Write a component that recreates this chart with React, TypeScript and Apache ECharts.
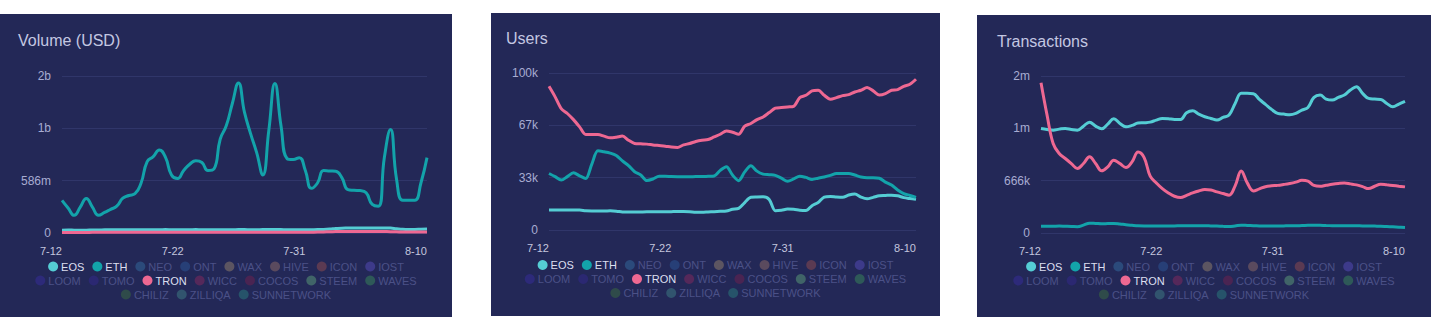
import React, { useEffect, useRef } from "react";
import * as echarts from "echarts";

const categories = [
  "7-12", "7-12", "7-13", "7-13", "7-14", "7-14", "7-15", "7-15", "7-16", "7-16",
  "7-17", "7-17", "7-18", "7-18", "7-19", "7-19", "7-20", "7-20", "7-21", "7-21",
  "7-22", "7-22", "7-23", "7-23", "7-24", "7-24", "7-25", "7-25", "7-26", "7-26",
  "7-27", "7-27", "7-27", "7-28", "7-28", "7-29", "7-29", "7-30", "7-30", "7-31",
  "7-31", "8-1", "8-1", "8-2", "8-2", "8-3", "8-3", "8-4", "8-4", "8-5",
  "8-5", "8-6", "8-6", "8-7", "8-7", "8-8", "8-8", "8-9", "8-9", "8-10",
  "8-10",
];

// Volume (USD), in millions
const volumeEOS = [
  32, 33, 32, 31, 32, 33, 34, 35, 36, 36,
  37, 37, 37, 36, 36, 37, 37, 38, 37, 36,
  36, 37, 38, 37, 37, 36, 36, 37, 37, 38,
  38, 37, 37, 38, 38, 39, 38, 37, 37, 36,
  36, 37, 38, 40, 44, 50, 54, 55, 56, 56,
  56, 55, 56, 56, 55, 48, 42, 40, 40, 42,
  44,
];
const volumeETH = [
  366, 280, 198, 290, 385, 290, 198, 230, 265, 300,
  390, 420, 440, 560, 800, 855, 930, 850, 650, 610,
  700, 770, 810, 790, 700, 720, 1050, 1200, 1450, 1681,
  1350, 1113, 900, 650, 1150, 1673, 1200, 833, 822, 844,
  700, 500, 560, 700, 695, 691, 620, 486, 478, 475,
  450, 320, 300, 850, 1158, 600, 366, 366, 366, 560,
  844,
];
const volumeTRON = [
  6, 6, 6, 6, 6, 7, 7, 7, 7, 7,
  7, 7, 7, 7, 7, 7, 7, 7, 7, 7,
  7, 7, 7, 7, 7, 7, 7, 8, 8, 8,
  8, 8, 8, 8, 8, 8, 8, 8, 8, 8,
  8, 9, 10, 12, 14, 16, 17, 18, 18, 18,
  18, 17, 17, 16, 15, 13, 11, 10, 10, 10,
  11,
];

// Users, in thousands
const usersEOS = [
  12.7, 12.8, 12.8, 12.8, 12.7, 12.7, 12.2, 12.1, 12.1, 12.1,
  12.2, 12.0, 11.5, 11.4, 11.4, 11.5, 11.6, 11.6, 11.6, 11.6,
  11.7, 11.8, 11.8, 11.7, 11.3, 11.3, 11.5, 11.7, 11.9, 12.1,
  13.2, 13.8, 17.5, 20.8, 21.0, 21.1, 19.5, 12.3, 12.6, 13.3,
  13.2, 12.6, 12.4, 15.5, 17.5, 21.0, 21.4, 21.0, 20.8, 22.3,
  23.0, 21.0, 19.9, 20.8, 21.8, 22.0, 22.2, 21.8, 20.6, 20.0,
  19.5,
];
const usersETH = [
  36, 34, 31.8, 34, 36.4, 34.5, 32.8, 42, 50.4, 49.8,
  49, 47.5, 44, 41, 37.1, 35, 31.5, 32.5, 34.2, 34.2,
  34, 33.9, 33.9, 33.9, 34, 34, 34.2, 34.4, 38, 40.3,
  35, 31.4, 37, 40.9, 37.5, 35.6, 35.2, 34.8, 33, 31,
  32.5, 34.3, 33.5, 32.2, 33, 33.8, 34.8, 36, 36, 36,
  35, 33.8, 33.3, 33.3, 33, 30.5, 28.6, 25.5, 23.2, 22,
  20.8,
];
const usersTRON = [
  91.5, 84.8, 77.3, 74.2, 70.3, 65.7, 60.8, 60.8, 60.8, 59.8,
  58.7, 59.1, 59.8, 57.2, 55.1, 54.9, 54.7, 54.2, 53.8, 53.4,
  52.8, 52.6, 54.2, 55.1, 56.4, 57.2, 57.6, 59.3, 61.0, 63.1,
  62.3, 61.0, 66.1, 67.8, 70.3, 72.0, 74.8, 77.6, 78.0, 78.4,
  78.8, 84.3, 85.8, 88.6, 89.0, 85.8, 83.3, 84.3, 85.6, 86.2,
  87.9, 89.0, 90.7, 88.6, 86.0, 86.9, 89.0, 89.4, 91.5, 92.8,
  96.0,
];

// Transactions, in thousands
const txEOS = [
  1331, 1318, 1309, 1322, 1331, 1318, 1309, 1360, 1411, 1360,
  1326, 1386, 1454, 1394, 1352, 1369, 1399, 1403, 1411, 1437,
  1458, 1454, 1445, 1445, 1530, 1556, 1513, 1479, 1458, 1437,
  1471, 1501, 1649, 1777, 1777, 1773, 1700, 1637, 1573, 1522,
  1513, 1505, 1522, 1564, 1598, 1726, 1756, 1705, 1692, 1726,
  1756, 1819, 1862, 1777, 1713, 1705, 1700, 1649, 1607, 1641,
  1675,
];
const txETH = [
  85, 85, 86, 88, 86, 84, 80, 100, 125, 122,
  118, 120, 122, 115, 105, 98, 92, 90, 90, 88,
  88, 90, 90, 92, 92, 92, 92, 92, 90, 88,
  85, 83, 90, 100, 97, 93, 90, 88, 88, 88,
  90, 92, 92, 95, 98, 100, 98, 95, 93, 92,
  92, 92, 92, 90, 90, 88, 86, 82, 78, 74,
  70,
];
const txTRON = [
  1913, 1500, 1139, 1012, 948, 884, 820, 884, 969, 884,
  791, 842, 927, 884, 833, 905, 1030, 960, 723, 638,
  565, 510, 468, 451, 480, 510, 535, 553, 548, 523,
  502, 482, 600, 790, 638, 536, 562, 589, 600, 606,
  617, 630, 647, 670, 660, 605, 594, 607, 620, 630,
  636, 625, 612, 590, 565, 595, 621, 613, 605, 596,
  587,
];

const legendRow1 = ["EOS", "ETH", "NEO", "ONT", "WAX", "HIVE", "ICON", "IOST"];
const legendRow2 = ["LOOM", "TOMO", "TRON", "WICC", "COCOS", "STEEM", "WAVES"];
const legendRow3 = ["CHILIZ", "ZILLIQA", "SUNNETWORK"];

const coinColors: Record<string, string> = {
  EOS: "#55cdd4",
  ETH: "#13a3aa",
  TRON: "#ee6892",
  NEO: "#2b4a7b",
  ONT: "#273f77",
  WAX: "#5c5561",
  HIVE: "#5a4a5e",
  ICON: "#5b3a52",
  IOST: "#3d3a8a",
  LOOM: "#2d2a7a",
  TOMO: "#2b2872",
  WICC: "#55285a",
  COCOS: "#4a2452",
  STEEM: "#406468",
  WAVES: "#2e5958",
  CHILIZ: "#2f4b4a",
  ZILLIQA: "#31546e",
  SUNNETWORK: "#26536a",
};

const BG = "#232857";
const GRID = "#30366a";
const FONT = "'Liberation Sans', Arial, Helvetica, sans-serif";

type PanelCfg = {
  title: string;
  left: number;
  top: number;
  width: number;
  height: number;
  titleLeft: number;
  titleTop: number;
  legendTop: number;
  grid: { left: number; right: number; top: number; bottom: number };
  max: number;
  interval: number;
  fmt: (v: number) => string;
  data: Record<string, number[]>;
  smooth: number;
};

const fmtVolume = (v: number) =>
  v === 0 ? "0" : v >= 1000 ? Math.round(v / 1000) + "b" : Math.round(v) + "m";
const fmtUsers = (v: number) => (v === 0 ? "0" : Math.round(v) + "k");
const fmtTx = (v: number) =>
  v === 0 ? "0" : v >= 1000 ? Math.round(v / 1000) + "m" : Math.round(v) + "k";

const panels: PanelCfg[] = [
  {
    title: "Volume (USD)",
    left: 0, top: 14, width: 452, height: 303,
    titleLeft: 13, titleTop: 13.5, legendTop: 242,
    grid: { left: 62, right: 25, top: 62, bottom: 84 },
    max: 1758, interval: 586, fmt: fmtVolume,
    data: { EOS: volumeEOS, ETH: volumeETH, TRON: volumeTRON },
    smooth: 0.5,
  },
  {
    title: "Users",
    left: 491, top: 13, width: 449, height: 303,
    titleLeft: 10, titleTop: 12, legendTop: 241.5,
    grid: { left: 58, right: 24, top: 60, bottom: 86 },
    max: 99.999, interval: 33.333, fmt: fmtUsers,
    data: { EOS: usersEOS, ETH: usersETH, TRON: usersTRON },
    smooth: 0.3,
  },
  {
    title: "Transactions",
    left: 977, top: 15, width: 454, height: 302,
    titleLeft: 15, titleTop: 13, legendTop: 241,
    grid: { left: 64, right: 26, top: 61, bottom: 84 },
    max: 1998, interval: 666, fmt: fmtTx,
    data: { EOS: txEOS, ETH: txETH, TRON: txTRON },
    smooth: 0.4,
  },
];

const allCoins = [...legendRow1, ...legendRow2, ...legendRow3];

function buildLegend(row: string[], top: number) {
  return {
    top,
    left: "center",
    selectedMode: false,
    icon: "circle",
    itemWidth: 10,
    itemHeight: 10,
    itemGap: 8,
    textStyle: { fontSize: 11, fontFamily: FONT, padding: [0, 0, 0, -2] },
    data: row.map((name) => {
      const active = name === "EOS" || name === "ETH" || name === "TRON";
      return {
        name,
        icon: "circle",
        itemStyle: { color: coinColors[name], borderWidth: 0 },
        textStyle: { color: active ? "#dcdff0" : "#4b5187" },
      };
    }),
  };
}

function buildOption(cfg: PanelCfg) {
  return {
    animation: false,
    backgroundColor: BG,
    textStyle: { fontFamily: FONT },
    title: {
      text: cfg.title,
      left: cfg.titleLeft,
      top: cfg.titleTop,
      textStyle: { color: "#c3c7e2", fontSize: 16, fontWeight: "normal", fontFamily: FONT },
    },
    grid: { ...cfg.grid },
    xAxis: {
      type: "category",
      data: categories,
      boundaryGap: false,
      axisLine: { show: false },
      axisTick: { show: false },
      splitLine: { show: false },
      axisLabel: {
        color: "#c3c6de",
        fontSize: 11,
        align: "right",
        margin: 12,
        interval: (i: number) => i % 20 === 0,
      },
    },
    yAxis: {
      type: "value",
      min: 0,
      max: cfg.max,
      interval: cfg.interval,
      axisLine: { show: false },
      axisTick: { show: false },
      splitLine: { lineStyle: { color: GRID, width: 1 } },
      axisLabel: { color: "#a8acd2", fontSize: 12, margin: 11, formatter: cfg.fmt },
    },
    legend: [
      buildLegend(legendRow1, cfg.legendTop),
      buildLegend(legendRow2, cfg.legendTop + 14),
      buildLegend(legendRow3, cfg.legendTop + 28),
    ],
    series: allCoins.map((name) => ({
      name,
      type: "line",
      data: cfg.data[name] || [],
      smooth: cfg.smooth,
      symbol: "none",
      color: coinColors[name],
      lineStyle: { width: 3, color: coinColors[name] },
      z: name === "TRON" ? 3 : 2,
    })),
  };
}

function Panel({ cfg }: { cfg: PanelCfg }) {
  const ref = useRef<HTMLDivElement>(null);
  useEffect(() => {
    const chart = echarts.init(ref.current!, undefined, { renderer: "svg" });
    chart.setOption(buildOption(cfg) as any);
    return () => chart.dispose();
  }, [cfg]);
  return (
    <div
      ref={ref}
      style={{
        position: "absolute",
        left: cfg.left,
        top: cfg.top,
        width: cfg.width,
        height: cfg.height,
        background: BG,
      }}
    />
  );
}

export default function App() {
  return (
    <div
      style={{
        position: "fixed",
        left: 0,
        top: 0,
        width: 1431,
        height: 334,
        background: "#ffffff",
        overflow: "hidden",
      }}
    >
      {panels.map((p) => (
        <Panel key={p.title} cfg={p} />
      ))}
    </div>
  );
}
